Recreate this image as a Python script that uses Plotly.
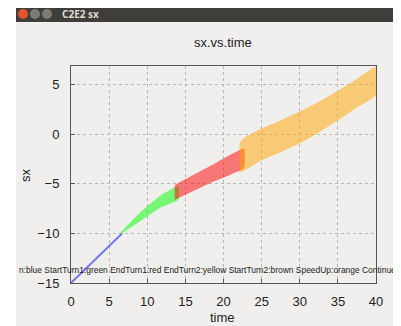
import plotly.graph_objects as go

# ---- data ----
blue_t = [0, 3, 5, 6.7]
blue_sx = [-15, -12.8, -11.3, -10.0]

green_t = [6.5, 9, 11.7, 14.1]
green_hi = [-9.9, -7.9, -6.2, -5.2]
green_lo = [-10.1, -8.8, -7.4, -6.6]

red_t = [13.6, 18, 22.7]
red_hi = [-5.1, -3.3, -1.4]
red_lo = [-6.6, -5.0, -3.4]

orange_t = [22.1, 22.6, 25, 27.5, 30, 32.5, 35, 37.5, 40]
orange_hi = [-0.9, -0.4, 0.6, 1.4, 2.3, 3.3, 4.4, 5.6, 6.8]
orange_lo = [-3.9, -3.7, -2.6, -1.8, -0.9, 0.2, 1.4, 2.7, 4.0]

x_ticks = [0, 5, 10, 15, 20, 25, 30, 35, 40]
y_ticks = [-15, -10, -5, 0, 5]
legend_text = "n:blue StartTurn1:green EndTurn1:red EndTurn2:yellow StartTurn2:brown SpeedUp:orange Continue:"

# page offset (browser body margin)
OFF = 8
W, H = 401 - OFF, 326 - OFF
# plot area in page pixels
PL, PR, PT, PB = 71, 376, 66, 283
L, R, T, B = PL - OFF, PR - OFF, PT - OFF, PB - OFF
PW, PH = R - L, B - T


def px(x):  # page pixel -> paper x
    return (x - OFF - L) / PW


def py(y):  # page pixel -> paper y
    return (B - (y - OFF)) / PH


BG = "#f0efed"
FONT = "Liberation Sans"

fig = go.Figure()


def band(t, hi, lo, color, smooth):
    fig.add_trace(go.Scatter(
        x=list(t) + list(t)[::-1], y=list(hi) + list(lo)[::-1],
        fill="toself", fillcolor=color, mode="lines",
        line=dict(width=0, color=color, shape="spline", smoothing=smooth),
        hoverinfo="skip", showlegend=False))


fig.add_trace(go.Scatter(x=blue_t, y=blue_sx, mode="lines",
                         line=dict(color="rgba(0,0,255,0.5)", width=2),
                         showlegend=False))
band(green_t, green_hi, green_lo, "rgba(0,255,0,0.5)", 0.3)
band(red_t, red_hi, red_lo, "rgba(255,0,0,0.5)", 0.3)
band(orange_t, orange_hi, orange_lo, "rgba(255,165,0,0.5)", 0.6)

axis_common = dict(
    showgrid=True, gridcolor="#b8b8b8", griddash="dot", gridwidth=1,
    zeroline=False, showline=True, linecolor="#555555", linewidth=1,
    mirror=True, ticks="inside", ticklen=4, tickcolor="#555555",
    tickfont=dict(family=FONT, size=13, color="#222222"),
)

fig.update_xaxes(range=[0, 40], tickvals=x_ticks, ticklabelstandoff=6, **axis_common)
fig.update_yaxes(range=[-15, 6.9], tickvals=y_ticks, ticklabelstandoff=8, **axis_common)

shapes = [
    # window body
    dict(type="rect", xref="paper", yref="paper", x0=px(16), x1=px(398), y0=py(340), y1=py(22),
         fillcolor=BG, line=dict(width=0), layer="below"),
    # title bar
    dict(type="rect", xref="paper", yref="paper", x0=px(16), x1=px(398), y0=py(22), y1=py(0),
         fillcolor="#3f3e3a", line=dict(width=0), layer="below"),
    # right border
    dict(type="rect", xref="paper", yref="paper", x0=px(398), x1=px(400), y0=py(340), y1=py(0),
         fillcolor="#5a5955", line=dict(width=0), layer="below"),
    # window buttons
    dict(type="circle", xref="paper", yref="paper", x0=px(18), x1=px(28), y0=py(19), y1=py(9),
         fillcolor="#e5522b", line=dict(width=0), layer="below"),
    dict(type="circle", xref="paper", yref="paper", x0=px(30), x1=px(40), y0=py(19), y1=py(9),
         fillcolor="#7d7b76", line=dict(width=0), layer="below"),
    dict(type="circle", xref="paper", yref="paper", x0=px(42), x1=px(52), y0=py(19), y1=py(9),
         fillcolor="#7d7b76", line=dict(width=0), layer="below"),
]

annotations = [
    dict(text="<b>C2E2 sx</b>", xref="paper", yref="paper", x=px(60), y=py(14),
         xanchor="left", yanchor="middle", showarrow=False,
         font=dict(family="Noto Sans", size=10, color="#dfdbd2")),
    dict(text="sx.vs.time", xref="paper", yref="paper", x=px(223), y=py(43),
         xanchor="center", yanchor="middle", showarrow=False,
         font=dict(family=FONT, size=13, color="#222222")),
    dict(text="time", xref="paper", yref="paper", x=px(222), y=py(317),
         xanchor="center", yanchor="middle", showarrow=False,
         font=dict(family=FONT, size=13, color="#222222")),
    dict(text="sx", xref="paper", yref="paper", x=px(25), y=py(175), textangle=-90,
         xanchor="center", yanchor="middle", showarrow=False,
         font=dict(family=FONT, size=13, color="#222222")),
    dict(text=legend_text, xref="paper", yref="paper", x=px(208), y=py(270),
         xanchor="center", yanchor="middle", showarrow=False,
         font=dict(family=FONT, size=8.45, color="#222222")),
]

fig.update_layout(
    width=W, height=H,
    margin=dict(l=L, r=W - R, t=T, b=H - B),
    paper_bgcolor="white", plot_bgcolor=BG,
    shapes=shapes, annotations=annotations,
    showlegend=False,
)

fig.write_html("out.html")
